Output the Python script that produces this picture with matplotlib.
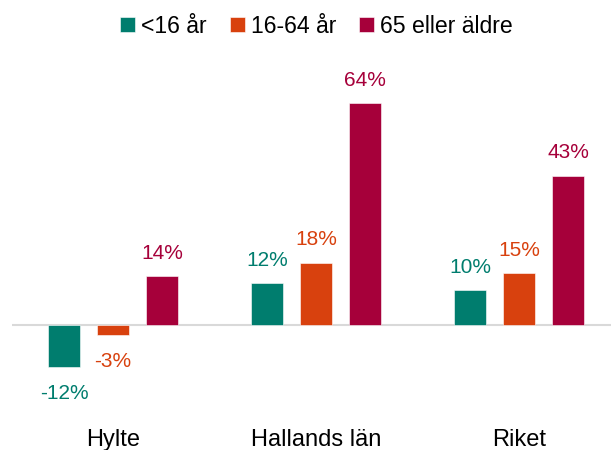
import matplotlib
matplotlib.use("Agg")
from matplotlib import pyplot as plt
import numpy as np

plt.rcParams['font.family'] = ['Liberation Sans', 'DejaVu Sans']

# data
groups = ['Hylte', 'Hallands län', 'Riket']
series = ['<16 år', '16-64 år', '65 eller äldre']
under16 = [-12, 12, 10]
age16_64 = [-3, 18, 15]
over65 = [14, 64, 43]
colors = ['#007D6E', '#D8410E', '#A6003A']

values = [under16, age16_64, over65]

fig = plt.figure(figsize=(6.11, 4.5), dpi=100)
# axes placed so the zero line sits at y=325 px, spanning x from 12 px to the right edge
ax = fig.add_axes([12 / 611, 50 / 450, 599 / 611, 340 / 450])

x = np.arange(len(groups))
offset = 0.241
width = 0.158

for i, (name, vals, col) in enumerate(zip(series, values, colors)):
    pos = x + (i - 1) * offset
    ax.bar(pos, vals, width, color=col, label=name, edgecolor='white', linewidth=0.4, zorder=2)
    for px, v in zip(pos, vals):
        dy = 16.5 if v >= 0 else -19
        ax.annotate('{0}%'.format(v), (px, v), xytext=(0, dy), textcoords='offset points',
                    ha='center', va='center', fontsize=15, color=col)

ax.axhline(0, color='#D9D9D9', linewidth=1.5, zorder=1)

ax.set_xlim(-0.4975, 2.453)
ax.set_ylim(-21.6, 76.4)
ax.set_xticks(x)
ax.set_xticklabels(groups, fontsize=17)
ax.tick_params(axis='x', length=0, pad=21)
ax.set_yticks([])
for s in ax.spines.values():
    s.set_visible(False)

fig.legend(loc='upper center', bbox_to_anchor=(0.518, 1.013), ncol=3, frameon=False,
           fontsize=16.6, handlelength=0.65, handleheight=0.65, handletextpad=0.25,
           columnspacing=1.0)

fig.savefig('out.png', dpi=100)
